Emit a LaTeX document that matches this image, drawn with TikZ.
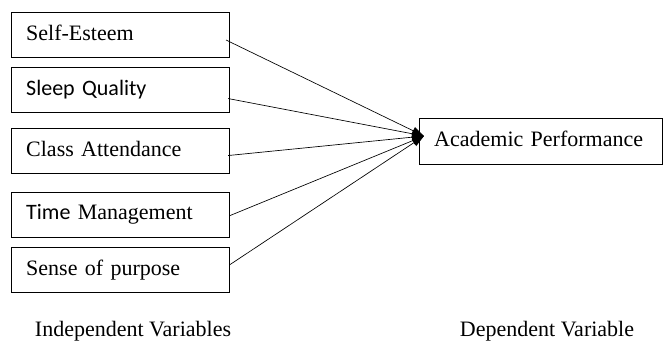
\documentclass[tikz,border=0pt]{standalone}
\usepackage{fontspec}
\setmainfont{Liberation Serif}
\newfontfamily\calib{Carlito}
\usetikzlibrary{arrows.meta}
\begin{document}
\begin{tikzpicture}[x=0.75pt,y=-0.75pt,
  ivbox/.style={draw,line width=0.8pt,minimum width=218*0.75pt,minimum height=45*0.75pt,
    inner xsep=11pt,text width=218*0.75pt-22pt,align=left,anchor=north west,
    text depth=4pt,font=\fontsize{16.5}{18}\selectfont},
  conn/.style={line width=0.5pt,-{Triangle[length=9pt,width=6pt]}},
  lbl/.style={font=\fontsize{16.5}{18}\selectfont,inner sep=1pt}]
\useasboundingbox (0,0) rectangle (663,343);
\node[ivbox] (s1) at (11,12) {Self-Esteem};
\node[ivbox] (s2) at (11,67) {\calib Sleep Quality};
\node[ivbox] (s3) at (11,128) {Class Attendance};
\node[ivbox] (s4) at (11,192) {{\calib Time} Management};
\node[ivbox] (s5) at (11,247) {Sense of purpose};
\node[draw,line width=0.8pt,minimum width=243*0.75pt,minimum height=46*0.75pt,
  inner xsep=11pt,text width=243*0.75pt-22pt,align=left,anchor=north west,
  text depth=4pt,font=\fontsize{16.5}{18}\selectfont] (ap) at (419,118) {Academic Performance};
\coordinate (tip) at (424,136);
\draw[conn] ([xshift=-4*0.75pt,yshift=-5*0.75pt]s1.east) -- (tip);
\draw[conn] ([xshift=-2*0.75pt,yshift=-8.5*0.75pt]s2.east) -- (tip);
\draw[conn] ([xshift=-2*0.75pt,yshift=-4.5*0.75pt]s3.east) -- (tip);
\draw[conn] ([yshift=-0.5*0.75pt]s4.east) -- (tip);
\draw[conn] ([yshift=5.5*0.75pt]s5.east) -- (tip);
\node[lbl] (iv) at (133,331) {Independent Variables};
\node[lbl] (dv) at (547,331) {Dependent Variable};
\end{tikzpicture}
\end{document}
